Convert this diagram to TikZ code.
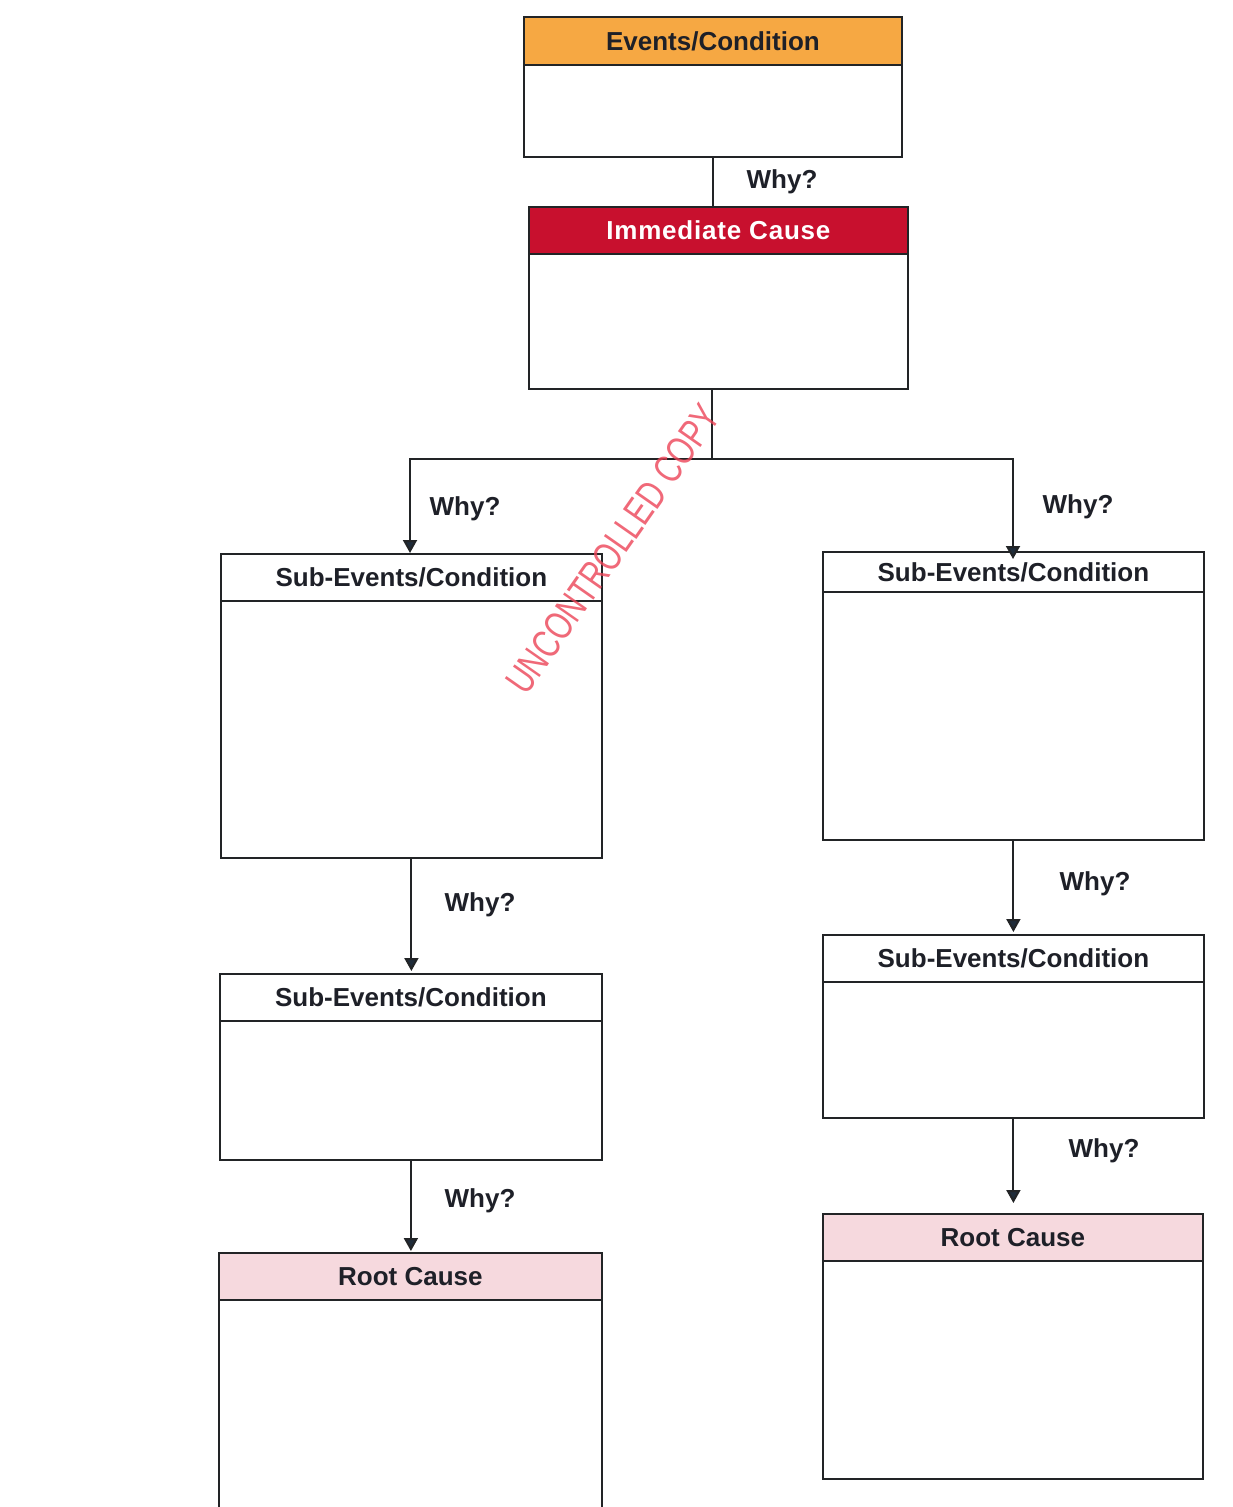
\documentclass[tikz,border=0pt]{standalone}
\usepackage{fontspec}
\setmainfont{Liberation Sans}
\usetikzlibrary{arrows.meta}
\definecolor{lc}{HTML}{222426}
\definecolor{tc}{HTML}{1E2028}
\definecolor{orangeh}{HTML}{F6A843}
\definecolor{redh}{HTML}{C8102E}
\definecolor{pinkh}{HTML}{F6D9DE}
\definecolor{wm}{HTML}{EC4457}
\definecolor{arr}{HTML}{1F2C3A}
\begin{document}
\begin{tikzpicture}[x=1pt,y=-1pt,
  box/.style={draw=lc, line width=1.8pt, anchor=north west, inner sep=0pt, fill=white},
  hdr/.style={draw=lc, line width=1.8pt, anchor=north west, inner sep=0pt, text=tc,
    font=\fontsize{26}{30}\selectfont\bfseries},
  why/.style={text=tc, font=\fontsize{26}{30}\selectfont\bfseries, inner sep=0pt},
  link/.style={draw=lc, line width=2pt},
  arrowlink/.style={link, -{Triangle[width=14pt,length=13pt,fill=arr]}}]
\useasboundingbox (0,0) rectangle (1233,1507);
\clip (0,0) rectangle (1233,1507);
% boxes
\node[box, minimum width=378pt, minimum height=140pt] (ev) at (523,16) {};
\node[hdr, fill=orangeh, minimum width=378pt, minimum height=48pt] (evh) at (523,16) {Events/Condition};
\node[box, minimum width=379pt, minimum height=182pt] (ic) at (528,206) {};
\node[hdr, fill=redh, text=white, minimum width=379pt, minimum height=47pt] (ich) at (528,206) {\addfontfeature{LetterSpace=3}Immediate Cause};
\node[box, minimum width=381pt, minimum height=304pt] (ls1) at (220,553) {};
\node[hdr, minimum width=381pt, minimum height=47pt] (ls1h) at (220,553) {Sub-Events/Condition};
\node[box, minimum width=381pt, minimum height=288pt] (rs1) at (822,551) {};
\node[hdr, minimum width=381pt, minimum height=40pt] (rs1h) at (822,551) {Sub-Events/Condition};
\node[box, minimum width=382pt, minimum height=186pt] (ls2) at (219,973) {};
\node[hdr, minimum width=382pt, minimum height=47pt] (ls2h) at (219,973) {Sub-Events/Condition};
\node[box, minimum width=381pt, minimum height=183pt] (rs2) at (822,934) {};
\node[hdr, minimum width=381pt, minimum height=47pt] (rs2h) at (822,934) {Sub-Events/Condition};
\node[box, minimum width=383pt, minimum height=290pt] (lr) at (218,1252) {};
\node[hdr, fill=pinkh, minimum width=383pt, minimum height=47pt] (lrh) at (218,1252) {Root Cause};
\node[box, minimum width=380pt, minimum height=265pt] (rr) at (822,1213) {};
\node[hdr, fill=pinkh, minimum width=380pt, minimum height=47pt] (rrh) at (822,1213) {Root Cause};
% connectors
\coordinate (split) at (712,459);
\coordinate (lsplit) at (410,459);
\coordinate (rsplit) at (1013,459);
\draw[link] (ev.south) -- (ev.south |- ich.north);
\draw[link] (split |- ic.south) -- (split);
\draw[arrowlink] (split) -- (lsplit) -- (lsplit |- ls1h.north);
\draw[arrowlink] (split) -- (rsplit) -- ([yshift=-8pt]rsplit |- rs1h.north);
\draw[arrowlink] (ls1.south) -- ([yshift=2pt]ls1.south |- ls2h.north);
\draw[arrowlink] (rs1.south) -- ([yshift=2pt]rs1.south |- rs2h.north);
\draw[arrowlink] (ls2.south) -- ([yshift=1pt]ls2.south |- lrh.north);
\draw[arrowlink] (rs2.south) -- ([yshift=10pt]rs2.south |- rrh.north);
% labels
\node[why] (w1) at (782,182) {Why?};
\node[why] (w2) at (465,509) {Why?};
\node[why] (w3) at (1078,507) {Why?};
\node[why] (w4) at (480,905) {Why?};
\node[why] (w5) at (1095,884) {Why?};
\node[why] (w6) at (480,1201) {Why?};
\node[why] (w7) at (1104,1151) {Why?};
% watermark
\node[text=wm, opacity=0.8, rotate=55, xscale=0.75, inner sep=0pt,
  font=\fontsize{40}{44}\selectfont] (wmk) at (613,549) {UNCONTROLLED COPY};
\end{tikzpicture}
\end{document}
